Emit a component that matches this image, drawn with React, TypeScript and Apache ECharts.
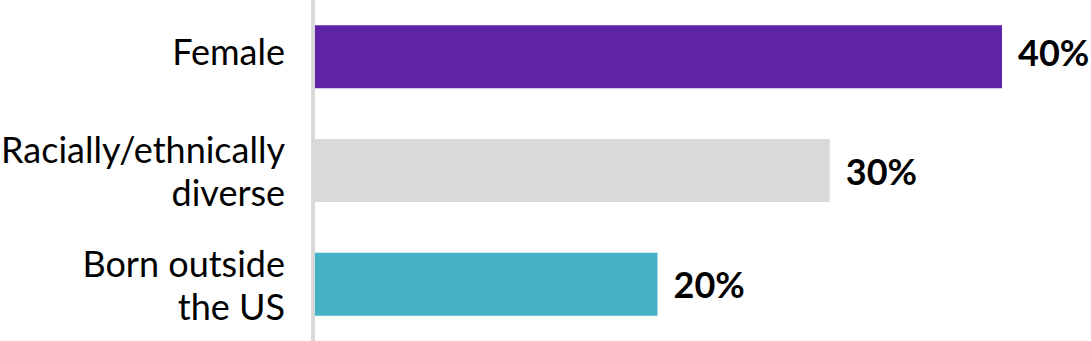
import React, { useEffect, useRef } from "react";
import * as echarts from "echarts";

const categories = ["Female", "Racially/ethnically\ndiverse", "Born outside\nthe US"];
const values = [40, 30, 20];
const colors = ["#5f23a5", "#d9d9d9", "#45b2c6"];

export default function App() {
  const ref = useRef<HTMLDivElement>(null);
  useEffect(() => {
    document.body.style.margin = "0";
    const chart = echarts.init(ref.current!, null, { renderer: "svg" });
    chart.setOption({
      animation: false,
      grid: { left: 313, right: 89, top: 0, bottom: 0, outerBoundsMode: "none", containLabel: false },
      xAxis: {
        type: "value",
        min: 0,
        max: 40,
        show: false,
      },
      yAxis: {
        type: "category",
        inverse: true,
        data: categories,
        z: 3,
        axisLine: { show: true, lineStyle: { color: "#d9d9d9", width: 4 } },
        axisTick: { show: false },
        axisLabel: {
          margin: 28,
          fontFamily: "Lato",
          fontSize: 36,
          lineHeight: 43,
          color: "#000",
          align: "right",
          formatter: (v: string) => (v.indexOf("\n") < 0 ? "{s|" + v + "}" : v),
          rich: {
            s: {
              fontFamily: "Lato",
              fontSize: 36,
              lineHeight: 43,
              color: "#000",
              padding: [0, 0, 12, 0],
            },
          },
        },
      },
      series: [
        {
          type: "bar",
          barWidth: 63,
          data: values.map((v, i) => ({
            value: v,
            itemStyle: { color: colors[i] },
            label: i === 0 ? { offset: [0, -5] } : undefined,
          })),
          label: {
            show: true,
            position: "right",
            distance: 16,
            formatter: "{c}%",
            fontFamily: "Lato",
            fontWeight: "bold",
            fontSize: 36,
            color: "#000",
          },
        },
      ],
    });
    return () => chart.dispose();
  }, []);
  return <div ref={ref} style={{ width: 1091, height: 341 }} />;
}
